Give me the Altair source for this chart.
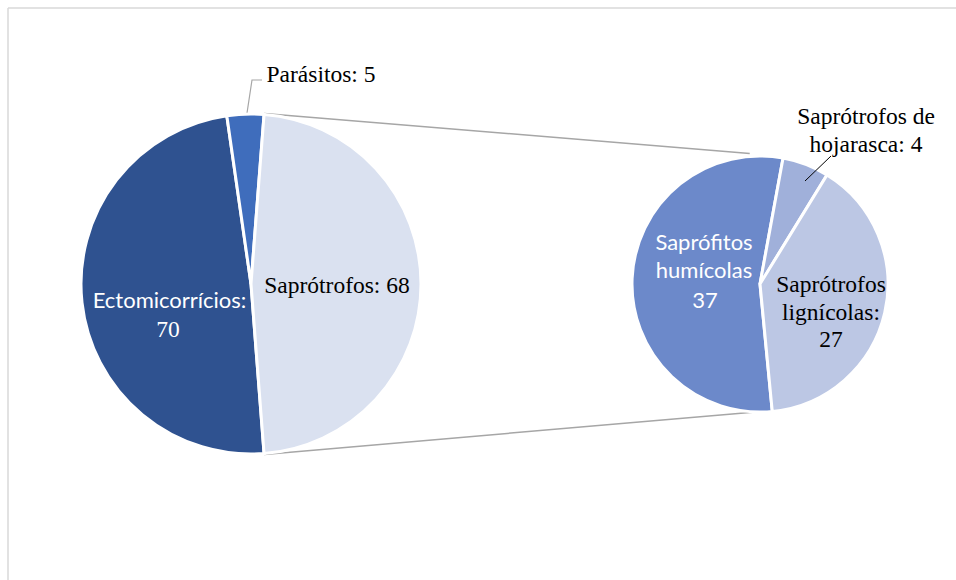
import math
import altair as alt
import pandas as pd

W, H = 956, 580

# Main pie: functional groups
main_names = ["Ectomicorrícios", "Parásitos", "Saprótrofos"]
main_values = [70, 5, 68]
main_colors = ["#2F5290", "#3F6DBC", "#DAE1F0"]

# Secondary pie: breakdown of Saprótrofos
sub_names = ["Saprófitos humícolas", "Saprótrofos de hojarasca", "Saprótrofos lignícolas"]
sub_values = [37, 4, 27]
sub_colors = ["#6C89CA", "#A0B0DA", "#BCC7E4"]

# Layout (pixels)
MAIN_CX, MAIN_CY, MAIN_R = 251, 284, 170
SUB_CX, SUB_CY, SUB_R = 760, 284, 128
SERIF = "Liberation Serif"
SANS = "Lato"

main_total = sum(main_values)
# the exploded group (last slice) is centred on the right-hand side
main_start = math.pi / 2 + math.pi * main_values[2] / main_total
sub_start = math.radians(174.5)

px = alt.Scale(domain=[0, W], range=[0, W])
py = alt.Scale(domain=[0, H], range=[0, H])


def pie(names, values, colors, cx, cy, r, start):
    df = pd.DataFrame({"name": names, "value": values, "color": colors,
                       "order": list(range(len(names)))})
    return alt.Chart(df).mark_arc(radius=r, stroke="white", strokeWidth=3).encode(
        x=alt.value(cx), y=alt.value(cy),
        theta=alt.Theta("value:Q", stack=True,
                        scale=alt.Scale(range=[start, start + 2 * math.pi])),
        color=alt.Color("color:N", scale=None),
        order=alt.Order("order:Q"),
    )


def polar(cx, cy, r, a):
    return cx + r * math.sin(a), cy - r * math.cos(a)


# connector lines from the split slice to the secondary pie
sap_a0 = main_start + 2 * math.pi * (main_values[0] + main_values[1]) / main_total
sap_a1 = main_start + 2 * math.pi
p_top = polar(MAIN_CX, MAIN_CY, MAIN_R + 1, sap_a0)
p_bot = polar(MAIN_CX, MAIN_CY, MAIN_R + 1, sap_a1)
q_top = polar(SUB_CX, SUB_CY, SUB_R + 3, math.radians(-4.5))
q_bot = polar(SUB_CX, SUB_CY, SUB_R, math.radians(182))
conn_df = pd.DataFrame({
    "x": [p_top[0], p_bot[0]], "y": [p_top[1], p_bot[1]],
    "x2": [q_top[0], q_bot[0]], "y2": [q_top[1], q_bot[1]],
})
connectors = alt.Chart(conn_df).mark_rule(color="#A6A6A6", strokeWidth=1.5).encode(
    x=alt.X("x:Q", scale=px, axis=None), y=alt.Y("y:Q", scale=py, axis=None),
    x2="x2:Q", y2="y2:Q",
)

# chart frame (top and left edges visible)
frame_df = pd.DataFrame({"x": [8, 8], "y": [8, 8], "x2": [W, 8], "y2": [8, H]})
frame = alt.Chart(frame_df).mark_rule(color="#D9D9D9", strokeWidth=1.5).encode(
    x=alt.X("x:Q", scale=px, axis=None), y=alt.Y("y:Q", scale=py, axis=None),
    x2="x2:Q", y2="y2:Q",
)

# leader lines for the small slices
par_leader_df = pd.DataFrame({"x": [247, 252, 262], "y": [113, 80, 80], "k": [0, 1, 2]})
par_leader = alt.Chart(par_leader_df).mark_line(color="#A6A6A6", strokeWidth=1.2).encode(
    x=alt.X("x:Q", scale=px, axis=None), y=alt.Y("y:Q", scale=py, axis=None),
    order="k:Q",
)
hoj_leader_df = pd.DataFrame({"x": [805], "y": [181], "x2": [831], "y2": [156]})
hoj_leader = alt.Chart(hoj_leader_df).mark_rule(color="#000000", strokeWidth=1).encode(
    x=alt.X("x:Q", scale=px, axis=None), y=alt.Y("y:Q", scale=py, axis=None),
    x2="x2:Q", y2="y2:Q",
)


def texts(rows, font, color, size):
    df = pd.DataFrame(rows, columns=["t", "x", "y"])
    return alt.Chart(df).mark_text(font=font, fontSize=size, color=color,
                                   align="center", baseline="alphabetic").encode(
        x=alt.X("x:Q", scale=px, axis=None), y=alt.Y("y:Q", scale=py, axis=None),
        text="t:N",
    )


serif_dark = texts([
    (f"{main_names[1]}: {main_values[1]}", 321, 82),
    (f"{main_names[2]}: {main_values[2]}", 337, 293),
    ("Saprótrofos de", 866, 124),
    (f"hojarasca: {sub_values[1]}", 866, 152),
    ("Saprótrofos", 831, 292),
    ("lignícolas:", 831, 320),
    (f"{sub_values[2]}", 831, 347),
], SERIF, "#000000", 23.5)

serif_white = texts([
    (f"{main_values[0]}", 168, 337),
], SERIF, "#FFFFFF", 23.5)

sans_white = texts([
    (f"{main_names[0]}:", 169.5, 308),
    ("Saprófitos", 704, 250),
    ("humícolas", 704, 278),
    (f"{sub_values[0]}", 705, 308),
], SANS, "#FFFFFF", 22)

main_pie = pie(main_names, main_values, main_colors, MAIN_CX, MAIN_CY, MAIN_R, main_start)
sub_pie = pie(sub_names, sub_values, sub_colors, SUB_CX, SUB_CY, SUB_R, sub_start)

chart = alt.layer(
    frame, connectors, par_leader, main_pie, sub_pie, hoj_leader,
    serif_dark, serif_white, sans_white,
).resolve_scale(theta="independent").properties(
    width=W, height=H, padding=0,
    autosize=alt.AutoSizeParams(type="none"),
    background="white",
).configure_view(stroke=None)

chart.save("out.html", embed_options={"renderer": "svg", "actions": False})
